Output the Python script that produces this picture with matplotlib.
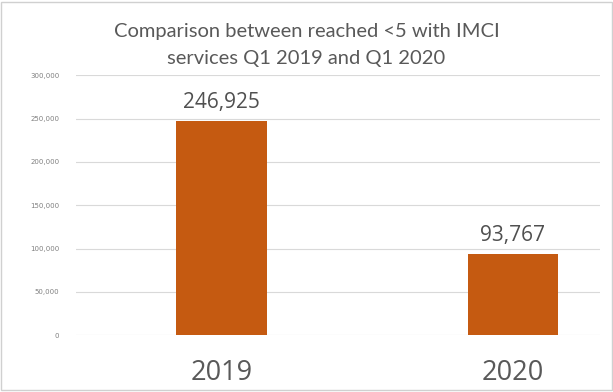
import matplotlib
matplotlib.use('Agg')
import matplotlib.pyplot as plt
from matplotlib.ticker import FuncFormatter

# datos
anios = ["2019", "2020"]
alcanzados = [246925, 93767]
y_ticks = [0, 50000, 100000, 150000, 200000, 250000, 300000]

fig = plt.figure(figsize=(6.13, 3.92), dpi=100)
ax = fig.add_axes([0.124, 0.145, 0.855, 0.663])

pos = range(len(anios))
barras = ax.bar(pos, alcanzados, width=0.31, color='#C55A11', zorder=3)

for b, v in zip(barras, alcanzados):
    ax.annotate(f"{v:,}", (b.get_x() + b.get_width() / 2, v),
                xytext=(0, 6), textcoords='offset points',
                ha='center', va='bottom', fontsize=15, color='#505050',
                family='Open Sans')

ax.set_ylim(0, 300000)
ax.set_xlim(-0.5, 1.3)
ax.set_yticks(y_ticks)
ax.yaxis.set_major_formatter(FuncFormatter(lambda v, p: f"{int(v):,}"))
ax.set_xticks(list(pos))
ax.set_xticklabels(anios, fontsize=19.5, color='#595959', family='Open Sans')
ax.tick_params(axis='y', labelsize=5, colors='#808080', length=0, pad=12)
ax.tick_params(axis='x', length=0, pad=17)
ax.grid(axis='y', color='#d9d9d9', linewidth=0.8, zorder=0)
for s in ax.spines.values():
    s.set_visible(False)

fig.text(0.50, 0.885, "Comparison between reached <5 with IMCI\nservices Q1 2019 and Q1 2020",
         ha='center', va='center', fontsize=14.5, color='#595959', linespacing=1.75,
         family='Lato')

# borde del gráfico
fig.patches.append(plt.Rectangle((0.002, 0.004), 0.996, 0.992, transform=fig.transFigure,
                                 fill=False, edgecolor='#d0d0d0', linewidth=1))

fig.savefig("out.png", dpi=100)
